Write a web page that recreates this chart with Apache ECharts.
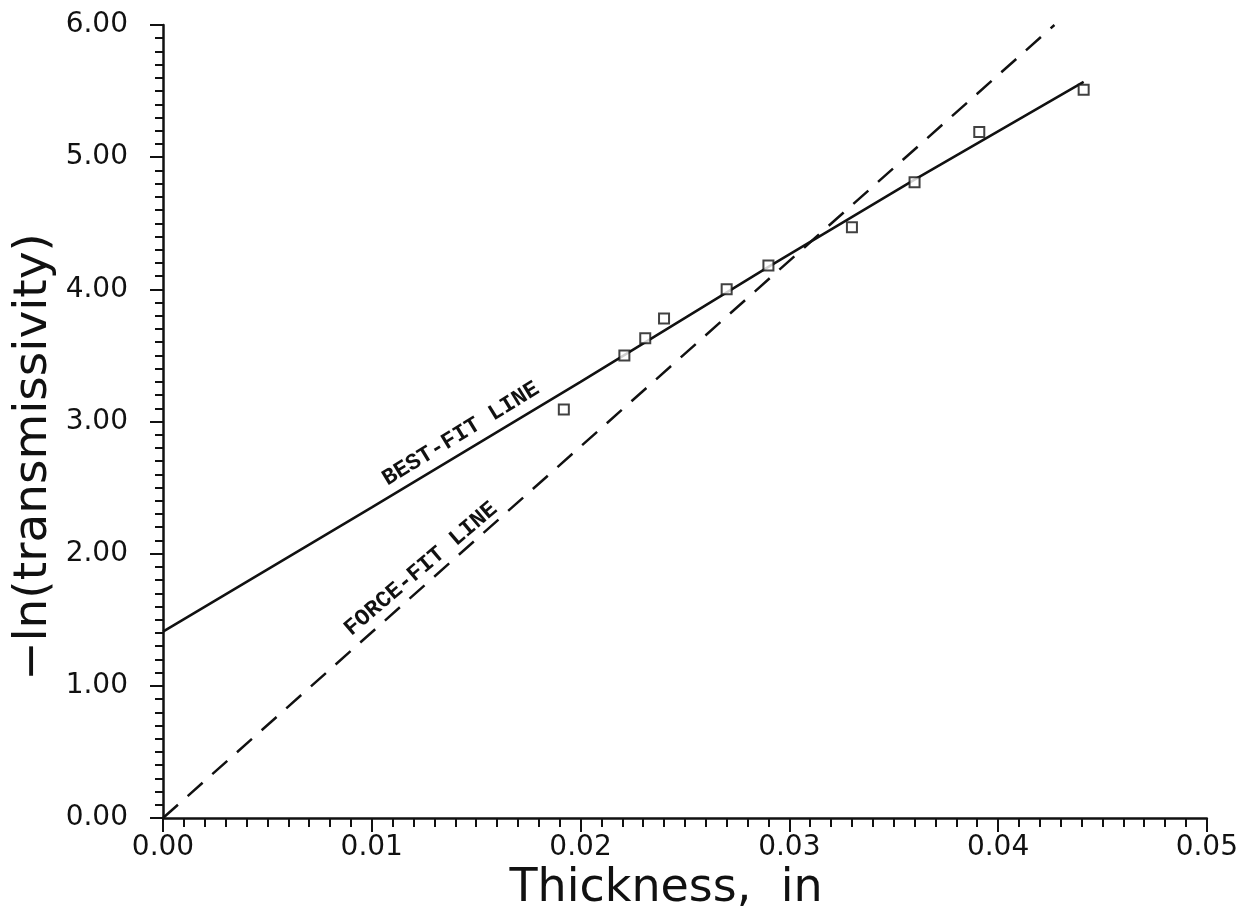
<!DOCTYPE html>
<html>
<head>
<meta charset="utf-8">
<title>Transmissivity vs thickness</title>
<script src="https://cdn.jsdelivr.net/npm/echarts@6/dist/echarts.min.js"></script>
<style>
  html, body { margin: 0; padding: 0; background: #fff; }
  #chart { width: 1241px; height: 912px; }
</style>
</head>
<body>
<div id="chart"></div>
<script>
// measured points (thickness in inches, -ln(transmissivity))
var thickness = [0.0192, 0.0221, 0.0231, 0.0240, 0.0270, 0.0290, 0.0330, 0.0360, 0.0391, 0.0441];
var lnTrans = [3.09, 3.50, 3.63, 3.78, 4.00, 4.18, 4.47, 4.81, 5.19, 5.51];

// hand drawn best-fit line
var bestFitX = [0, 0.01, 0.02, 0.029, 0.036, 0.0441];
var bestFitY = [1.41, 2.35, 3.30, 4.17, 4.83, 5.57];
// force-fit line through the origin
var forceFitX = [0, 0.0427];
var forceFitY = [0, 6.0];

var xTicks = [0, 0.01, 0.02, 0.03, 0.04, 0.05];
var yTicks = [0, 1, 2, 3, 4, 5, 6];

function pairs(xs, ys) {
  return xs.map(function (x, i) { return [x, ys[i]]; });
}

var ink = '#111';
var sans = '"DejaVu Sans", Verdana, sans-serif';
var mono = '"Liberation Mono", "Courier New", monospace';

var chart = echarts.init(document.getElementById('chart'));

var option = {
  backgroundColor: '#fff',
  animation: false,
  grid: { left: 163, right: 29, top: 25, bottom: 94 },
  xAxis: {
    type: 'value',
    min: xTicks[0],
    max: xTicks[xTicks.length - 1],
    interval: 0.01,
    splitLine: { show: false },
    axisLine: { onZero: false, lineStyle: { color: ink, width: 2.5 } },
    axisTick: { show: true, length: 14, lineStyle: { color: ink, width: 2 } },
    minorTick: { show: true, splitNumber: 10, length: 9, lineStyle: { color: ink, width: 2 } },
    axisLabel: {
      color: ink, fontFamily: sans, fontSize: 28, margin: 16,
      formatter: function (v) { return v.toFixed(2); }
    }
  },
  yAxis: {
    type: 'value',
    min: yTicks[0],
    max: yTicks[yTicks.length - 1],
    interval: 1,
    splitLine: { show: false },
    axisLine: { onZero: false, lineStyle: { color: ink, width: 2.5 } },
    axisTick: { show: true, length: 13, lineStyle: { color: ink, width: 2 } },
    minorTick: { show: true, splitNumber: 10, length: 8, lineStyle: { color: ink, width: 2 } },
    axisLabel: {
      color: ink, fontFamily: sans, fontSize: 28, margin: 35,
      formatter: function (v) { return v.toFixed(2); }
    }
  },
  series: [
    {
      name: 'best-fit',
      type: 'line',
      data: pairs(bestFitX, bestFitY),
      showSymbol: false,
      lineStyle: { color: ink, width: 2.5 },
      z: 2
    },
    {
      name: 'force-fit',
      type: 'line',
      data: pairs(forceFitX, forceFitY),
      showSymbol: false,
      lineStyle: { color: ink, width: 2.5, type: [20, 13] },
      z: 2
    },
    {
      name: 'measured',
      type: 'scatter',
      data: pairs(thickness, lnTrans),
      symbol: 'rect',
      symbolSize: 10,
      itemStyle: { color: '#fff', borderColor: ink, borderWidth: 2 },
      z: 3
    }
  ],
  graphic: [
    {
      type: 'text', x: 461, y: 434, rotation: 31.5 * Math.PI / 180,
      style: {
        text: 'BEST-FIT LINE', fill: ink, font: 'bold 23px ' + mono,
        align: 'center', verticalAlign: 'middle'
      }
    },
    {
      type: 'text', x: 421, y: 569, rotation: 40.5 * Math.PI / 180,
      style: {
        text: 'FORCE-FIT LINE', fill: ink, font: 'bold 23px ' + mono,
        align: 'center', verticalAlign: 'middle'
      }
    },
    {
      type: 'text', x: 666, y: 889,
      style: {
        text: 'Thickness,  in', fill: ink, font: '46px ' + sans,
        align: 'center', verticalAlign: 'middle'
      }
    },
    {
      type: 'text', x: 34, y: 457, rotation: Math.PI / 2,
      style: {
        text: '\u2212ln(transmissivity)', fill: ink, font: '47px ' + sans,
        align: 'center', verticalAlign: 'middle'
      }
    }
  ]
};

chart.setOption(option);
</script>
</body>
</html>
